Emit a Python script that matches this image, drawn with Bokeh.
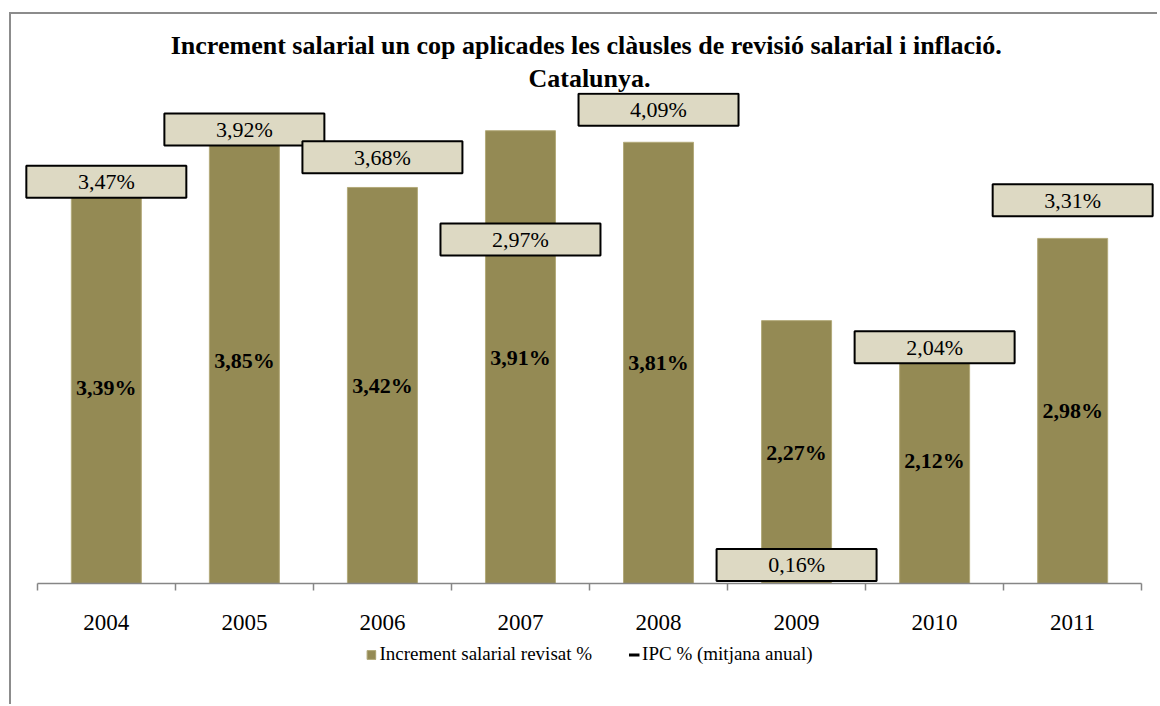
from bokeh.plotting import figure
from bokeh.models import (Range1d, FixedTicker, Legend, LegendItem, Title,
                          ColumnDataSource)
from bokeh.core.properties import value
from bokeh.embed import file_html
from bokeh.resources import INLINE

# ---- data ----
years = ["2004", "2005", "2006", "2007", "2008", "2009", "2010", "2011"]
salary = [3.39, 3.85, 3.42, 3.91, 3.81, 2.27, 2.12, 2.98]
ipc = [3.47, 3.92, 3.68, 2.97, 4.09, 0.16, 2.04, 3.31]

xs = [i + 0.5 for i in range(len(years))]
fmt = lambda v: f"{v:.2f}".replace(".", ",") + "%"

src = ColumnDataSource(dict(
    x=xs, sal=salary, sal_mid=[v / 2 for v in salary], ipc=ipc,
    x0=[x - 0.04 for x in xs], x1=[x + 0.04 for x in xs],
    sal_lbl=[fmt(v) for v in salary], ipc_lbl=[fmt(v) for v in ipc],
))

FONT = "Liberation Serif"

p = figure(width=1148, height=692, output_backend="svg", toolbar_location=None,
           x_range=Range1d(-0.1, len(years) + 0.1), y_range=Range1d(-1.062, 4.24),
           y_axis_location=None, min_border_left=12, min_border_right=4,
           min_border_top=78, min_border_bottom=0)
p.outline_line_color = None
p.xgrid.visible = False
p.ygrid.visible = False
p.background_fill_color = "white"
p.border_fill_color = "white"
p.margin = (12, 0, 0, 9)
p.styles = {"border-top": "2px solid #8C8C8C", "border-left": "2px solid #8C8C8C"}

# titles
t2 = Title(text="Catalunya.", align="center", text_font=FONT,
           text_font_size="26px", text_font_style="bold", text_color="black",
           standoff=0)
t1 = Title(text="Increment salarial un cop aplicades les clàusles de revisió salarial i  inflació.",
           align="center", text_font=FONT, text_font_size="26px",
           text_font_style="bold", text_color="black", standoff=3)
p.add_layout(t2, "above")
p.add_layout(t1, "above")

# bars
bars = p.vbar(x="x", top="sal", width=0.507, source=src,
              fill_color="#948A54", line_color="#B3AA7A", line_width=1)
p.text(x="x", y="sal_mid", text="sal_lbl", source=src,
       text_font=value(FONT), text_font_size="22px", text_font_style="bold",
       text_align="center", text_baseline="middle", text_color="black")

# IPC series (dash markers, hidden below labels as in the original)
ipc_r = p.segment(x0="x0", y0="ipc", x1="x1", y1="ipc", source=src,
                  line_color="black", line_width=3)
p.rect(x="x", y="ipc", width=160, height=32, width_units="screen",
       height_units="screen", source=src, fill_color="#DDD9C3",
       line_color="black", line_width=2)
p.text(x="x", y="ipc", text="ipc_lbl", source=src,
       text_font=value(FONT), text_font_size="22px",
       text_align="center", text_baseline="middle", text_color="black")

# x axis at y = 0: labels at centers, ticks at category boundaries
ax = p.xaxis[0]
ax.fixed_location = 0
ax.bounds = (0, len(years))
ax.ticker = FixedTicker(ticks=xs, minor_ticks=list(range(len(years) + 1)))
ax.major_label_overrides = {x: y for x, y in zip(xs, years)}
ax.major_tick_out = 0
ax.major_tick_in = 0
ax.minor_tick_out = 7
ax.minor_tick_in = 0
ax.minor_tick_line_color = "#868686"
ax.minor_tick_line_width = 1.5
ax.axis_line_color = "#868686"
ax.axis_line_width = 1.5
ax.major_label_text_font = FONT
ax.major_label_text_font_size = "23px"
ax.major_label_text_color = "black"
ax.major_label_standoff = 24

legend = Legend(items=[LegendItem(label="Increment salarial revisat %", renderers=[bars]),
                       LegendItem(label="IPC % (mitjana anual)", renderers=[ipc_r])],
                orientation="horizontal", location="bottom_center",
                label_text_font=FONT, label_text_font_size="19px",
                label_text_color="black", glyph_width=11, glyph_height=11,
                label_standoff=3, spacing=36, padding=0, margin=41,
                border_line_color=None, background_fill_alpha=0)
p.add_layout(legend, "center")

open("out.html", "w").write(file_html(p, INLINE))
